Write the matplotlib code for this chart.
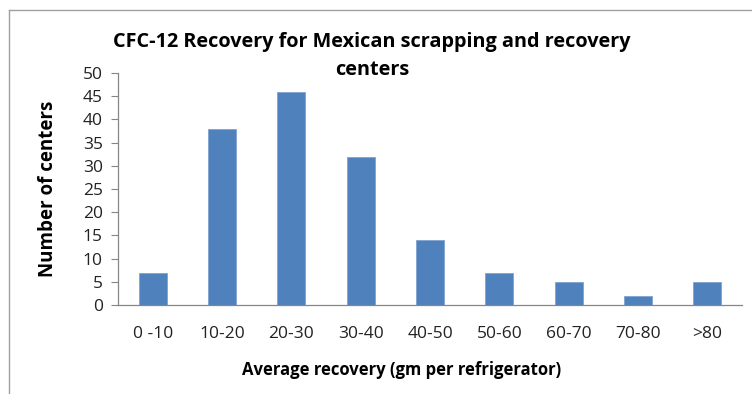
import numpy as np
import matplotlib.pyplot as plt
from matplotlib.lines import Line2D

categories = ['0 -10', '10-20', '20-30', '30-40', '40-50', '50-60', '60-70', '70-80', '>80']
counts = [7, 38, 46, 32, 14, 7, 5, 2, 5]
yticks = [0, 5, 10, 15, 20, 25, 30, 35, 40, 45, 50]

plt.rcParams['font.family'] = ['Open Sans', 'DejaVu Sans']

W, H = 752, 394
fig = plt.figure(figsize=(W / 100, H / 100), dpi=100)
ax = fig.add_axes([118 / W, 1 - 305 / H, (742 - 118) / W, (305 - 73) / H])

x = np.arange(len(categories))
ax.bar(x, counts, width=0.4, color='#4F81BD', edgecolor='#7FA3D0', linewidth=0.6, zorder=2)

ax.set_xlim(-0.5, len(categories) - 0.5)
ax.set_ylim(0, 50)
ax.set_yticks(yticks)
ax.set_xticks(x)
ax.set_xticklabels(categories, fontsize=12.5, color='#222222')
ax.tick_params(axis='x', length=0, pad=15)
ax.tick_params(axis='y', length=5, width=0.8, color='#868686', labelsize=12.5,
               labelcolor='#222222', pad=6)

for s in ['top', 'right']:
    ax.spines[s].set_visible(False)
for s in ['left', 'bottom']:
    ax.spines[s].set_color('#868686')
    ax.spines[s].set_linewidth(0.9)

ax.set_xlabel('Average recovery (gm per refrigerator)', fontsize=12, fontweight='bold')
ax.xaxis.set_label_coords((402 - 118) / 624, -(370 - 305) / 232)
ax.xaxis.label.set_va('center')
ax.set_ylabel('Number of centers', fontsize=13.5, fontweight='bold', labelpad=18)

fig.text(372 / W, 1 - 42 / H, 'CFC-12 Recovery for Mexican scrapping and recovery',
         ha='center', va='center', fontsize=14.3, fontweight='bold')
fig.text(372 / W, 1 - 70 / H, 'centers', ha='center', va='center',
         fontsize=14.3, fontweight='bold')

# chart border (partially visible)
fig.add_artist(Line2D([9 / W, 1], [1 - 10 / H, 1 - 10 / H], transform=fig.transFigure,
                      color='#a0a0a0', linewidth=1))
fig.add_artist(Line2D([9 / W, 9 / W], [0, 1 - 10 / H], transform=fig.transFigure,
                      color='#a0a0a0', linewidth=1))

fig.savefig('out.png', dpi=100)
